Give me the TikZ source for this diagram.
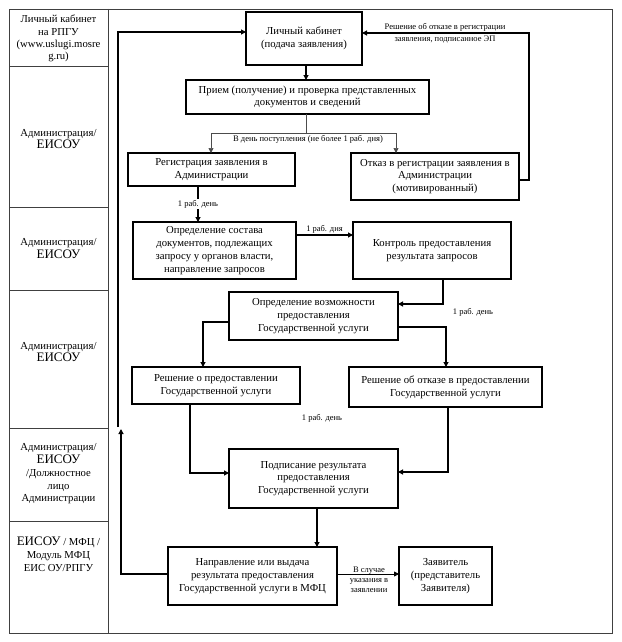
\documentclass[tikz,border=0pt]{standalone}
\usepackage{fontspec}
\setmainfont{Liberation Serif}
\usetikzlibrary{arrows.meta}
\begin{document}
\begin{tikzpicture}[x=1pt,y=-1pt,
 box/.style={draw,line width=1.2pt,inner sep=0pt,outer sep=0pt,align=center,font=\fontsize{10.7}{12.8}\selectfont},
 arr/.style={line width=1.1pt,-{Triangle[length=5pt,width=5pt]}},
 thinln/.style={line width=0.7pt,draw=black!70},
 thinarr/.style={line width=0.7pt,draw=black!70,-{Triangle[length=5pt,width=5pt]}},
 lbl/.style={font=\fontsize{8.5}{10}\selectfont,inner sep=1pt,align=center},
 lane/.style={align=center,font=\fontsize{10.7}{12.8}\selectfont},
 frame/.style={line width=0.9pt,draw=black!75}]
\useasboundingbox (0,0) rectangle (621,642);
\draw[frame] (9,9) rectangle (612,633);
\draw[frame] (108,9) -- (108,633);
\foreach \y in {66,207,290,428,521} \draw[frame] (9,\y) -- (108,\y);
\newcommand{\bigE}{{\fontsize{13}{14}\selectfont ЕИСОУ}}
% lane labels
\node[lane,font=\fontsize{10.7}{12.3}\selectfont] (L1) at (58.5,38.5) {Личный кабинет\\на РПГУ\\(www.uslugi.mosre\\g.ru)};
\node[lane] (L2) at (58.5,139) {Администрация/\\\bigE};
\node[lane] (L3) at (58.5,248.5) {Администрация/\\\bigE};
\node[lane] (L4) at (58.5,352) {Администрация/\\\bigE};
\node[lane] (L5) at (58.5,474) {Администрация/\\\bigE\\/Должностное\\лицо\\Администрации};
\node[lane] (L6) at (58.5,554) {\bigE{} / МФЦ /\\Модуль МФЦ\\ЕИС ОУ/РПГУ};
% boxes
\node[box,minimum width=116pt,minimum height=53pt] (B1) at (304,38.5) {Личный кабинет\\(подача заявления)};
\node[box,minimum width=243pt,minimum height=34pt] (B2) at (307.5,97) {Прием (получение) и проверка представленных\\документов и сведений};
\node[box,minimum width=167pt,minimum height=33pt] (B3) at (211.5,169.5) {Регистрация заявления в\\Администрации};
\node[box,minimum width=168pt,minimum height=47pt] (B4) at (435,176.5) {Отказ в регистрации заявления в\\Администрации\\(мотивированный)};
\node[box,minimum width=163pt,minimum height=57pt] (B5) at (214.5,250.5) {Определение состава\\документов, подлежащих\\запросу у органов власти,\\направление запросов};
\node[box,minimum width=158pt,minimum height=57pt] (B6) at (432,250.5) {Контроль предоставления\\результата запросов};
\node[box,minimum width=169pt,minimum height=48pt] (B7) at (313.5,316) {Определение возможности\\предоставления\\Государственной услуги};
\node[box,minimum width=168pt,minimum height=37pt] (B8) at (216,385.5) {Решение о предоставлении\\Государственной услуги};
\node[box,minimum width=193pt,minimum height=40pt] (B9) at (445.5,387) {Решение об отказе в предоставлении\\Государственной услуги};
\node[box,minimum width=169pt,minimum height=59pt] (B10) at (313.5,478.5) {Подписание результата\\предоставления\\Государственной услуги};
\node[box,minimum width=169pt,minimum height=58pt] (B11) at (252.5,576) {Направление или выдача\\результата предоставления\\Государственной услуги в МФЦ};
\node[box,minimum width=93pt,minimum height=58pt] (B12) at (445.5,576) {Заявитель\\(представитель\\Заявителя)};
% connectors
\draw[arr] (306,0 |- B1.south) -- (306,0 |- B2.north);
\coordinate (S) at (306,133);
\draw[thinln] (306,0 |- B2.south) -- (S);
\draw[thinarr] (S) -- (211,133) -- (211,0 |- B3.north);
\draw[thinarr] (S) -- (396,133) -- (396,0 |- B4.north);
\node[lbl] (Lday) at (308,139.5) {В день поступления (не более 1 раб. дня)};
\draw[arr] (B4.east |- 0,180) -- (529,180) -- (529,33) -- (B1.east |- 0,33);
\node[lbl,font=\fontsize{8.5}{11.5}\selectfont] (Lref) at (445,33.5) {Решение об отказе в регистрации\\заявления, подписанное ЭП};
\draw[arr] (198,0 |- B3.south) -- (198,0 |- B5.north) node[lbl,midway,fill=white,inner sep=1.5pt] (La) {1 раб. день};
\draw[arr] (B5.east |- 0,235) -- (B6.west |- 0,235) node[lbl,midway,above=0.5pt] (Lb) {1 раб. дня};
\draw[arr] (443,0 |- B6.south) -- (443,304) -- (B7.east |- 0,304);
\node[lbl] (Lc) at (473,312) {1 раб. день};
\draw[arr] (B7.west |- 0,322) -- (203,322) -- (203,0 |- B8.north);
\draw[arr] (B7.east |- 0,327) -- (446,327) -- (446,0 |- B9.north);
\draw[arr] (190,0 |- B8.south) -- (190,473) -- (B10.west |- 0,473);
\draw[arr] (448,0 |- B9.south) -- (448,472) -- (B10.east |- 0,472);
\node[lbl] (Ld) at (322,418) {1 раб. день};
\draw[arr] (317,0 |- B10.south) -- (317,0 |- B11.north);
\draw[arr,line width=0.8pt] (B11.east |- 0,574) -- (B12.west |- 0,574);
\node[lbl] (Le) at (369,580) {В случае\\указания в\\заявлении};
\draw[arr] (B11.west |- 0,574) -- (121,574) -- (121,429);
\draw[arr] (118,427) -- (118,32) -- (B1.west |- 0,32);
\end{tikzpicture}
\end{document}
